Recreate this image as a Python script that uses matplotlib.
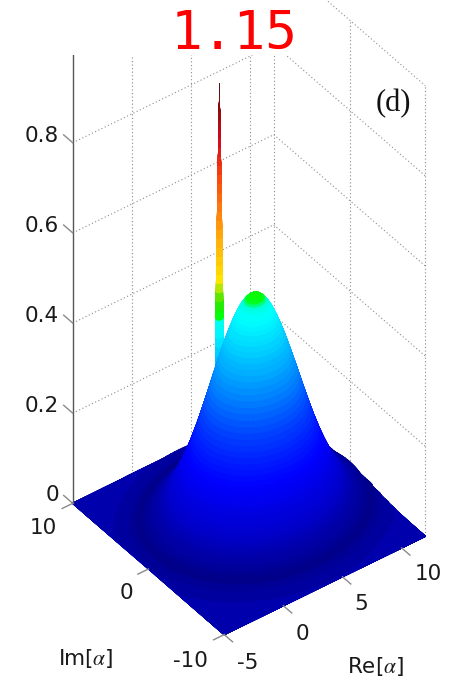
import numpy as np
import matplotlib
matplotlib.use('Agg')
from matplotlib import pyplot as plt
from matplotlib.colors import LinearSegmentedColormap
from matplotlib.patches import Rectangle
from mpl_toolkits.mplot3d import proj3d

plt.rcParams['font.family'] = ['DejaVu Sans']
plt.rcParams['mathtext.fontset'] = 'stix'

# 数据
re_ticks = [-5, 0, 5, 10]
im_ticks = [-10, 0, 10]
z_ticks = [0, 0.2, 0.4, 0.6, 0.8]
z_grid = [0.2, 0.4, 0.6, 0.8, 1.0]
re_range = [-5, 12]
im_range = [-10, 10]

# 宽峰：中心位置和径向剖面
peak_re = 4
peak_im = 0
peak_radius = [0, 0.125, 0.25, 0.375, 0.5, 0.625, 0.75, 0.875, 1, 1.125, 1.25, 1.375, 1.5, 1.625,
               1.75, 1.875, 2, 2.125, 2.25, 2.375, 2.5, 2.625, 2.75, 2.875, 3, 3.125, 3.25, 3.375,
               3.5, 3.625, 3.75, 3.875, 4, 4.125, 4.25, 4.375, 4.5, 4.625, 4.75, 4.875, 5, 5.125,
               5.25, 5.375, 5.5, 5.625, 5.75, 5.875, 6, 6.125, 6.25, 6.375, 6.5, 6.625, 6.75,
               6.875, 7, 7.25, 7.5, 7.75, 8, 8.5, 9, 9.5, 10, 11, 12, 14, 16]
peak_height = [0.495, 0.4946, 0.4935, 0.4915, 0.489, 0.4854, 0.481, 0.4764, 0.471, 0.4646, 0.458,
               0.4503, 0.442, 0.4338, 0.424, 0.4152, 0.405, 0.395, 0.384, 0.3734, 0.362, 0.3508,
               0.339, 0.3274, 0.316, 0.3038, 0.292, 0.28, 0.268, 0.2566, 0.245, 0.2336, 0.222,
               0.2114, 0.200, 0.1901, 0.180, 0.1698, 0.160, 0.1509, 0.142, 0.1331, 0.125, 0.1167,
               0.109, 0.1018, 0.095, 0.0881, 0.082, 0.0758, 0.070, 0.0648, 0.060, 0.0551, 0.051,
               0.0466, 0.043, 0.036, 0.030, 0.025, 0.020, 0.0135, 0.0087, 0.0055, 0.0034, 0.0012,
               0.0004, 0, 0]

# 尖峰：位置和径向剖面
spike_re = 1
spike_im = 0
spike_radius = [0, 0.012, 0.025, 0.037, 0.05, 0.062, 0.075, 0.087, 0.1, 0.112, 0.125, 0.135, 0.145,
                0.155, 0.165, 0.175, 0.185, 0.195, 0.205, 0.215, 0.225, 0.232, 0.24, 0.247, 0.255,
                0.262, 0.269, 0.275, 0.281, 0.287, 0.294, 0.3, 0.306, 0.312, 0.319, 0.325, 0.34]
spike_height = [1.0, 0.98, 0.96, 0.94, 0.92, 0.9, 0.88, 0.86, 0.84, 0.82, 0.8, 0.78, 0.76, 0.74,
                0.72, 0.7, 0.68, 0.66, 0.64, 0.62, 0.6, 0.58, 0.56, 0.54, 0.52, 0.5, 0.48, 0.46,
                0.44, 0.42, 0.4, 0.38, 0.36, 0.34, 0.32, 0.3, 0.0]

# 颜色表：深蓝-蓝-青-绿-黄-橙-红-暗红
surface_cmap = LinearSegmentedColormap.from_list('surface', [
    (0.0, (0, 0, 0.68)), (0.004, (0, 0, 0.62)), (0.015, (0, 0, 0.54)), (0.07, (0, 0, 0.78)),
    (0.13, (0, 0, 0.93)), (0.16, (0, 0, 1)), (0.25, (0, 0.25, 1)), (0.316, (0, 0.5, 1)),
    (0.4, (0, 0.8, 1)), (0.46, (0, 1, 1)), (0.478, (0, 1, 0.9)), (0.487, (0, 1, 0.05)),
    (0.52, (0.2, 0.9, 0)), (0.565, (1, 0.9, 0)), (0.66, (1, 0.68, 0.05)), (0.79, (0.98, 0.3, 0.05)),
    (0.87, (0.85, 0.05, 0.1)), (0.95, (0.55, 0.03, 0.05)), (1.0, (0.3, 0.08, 0.08))])

fig = plt.figure(figsize=(4.54, 6.78), dpi=100)
ax = fig.add_axes([(238.2 - 400) / 454, (678 - 305.3 - 400) / 678, 800 / 454, 800 / 678],
                  projection='3d', proj_type='ortho', computed_zorder=False)
ax.view_init(elev=40.6, azim=-126.9)
ax.set_xlim(re_range)
ax.set_ylim(im_range)
ax.set_zlim(0, 1)
ax.set_box_aspect((250.75, 251.6, 592), zoom=672 / 800)
ax.set_axis_off()


def polar_surface(center_re, center_im, radius, height, order, width):
    angle = np.radians(np.arange(0, 361, 2))
    rr, aa = np.meshgrid(np.array(radius), angle)
    zz = np.tile(np.array(height), (len(angle), 1))
    xx = np.clip(center_re + rr * np.cos(aa), *re_range)
    yy = np.clip(center_im + rr * np.sin(aa), *im_range)
    surf = ax.plot_surface(xx, yy, zz, rstride=1, cstride=1, cmap=surface_cmap, vmin=0, vmax=1,
                           linewidth=width, antialiased=True, zorder=order)
    surf.set_edgecolor('face')
    surf.set_snap(False)


# 背景虚线网格
grid_style = dict(color='#8c8c8c', linestyle=(0, (1, 2.2)), linewidth=0.8, zorder=1)
for z in z_grid:
    ax.plot([re_range[0], re_range[1]], [im_range[1], im_range[1]], [z, z], **grid_style)
    ax.plot([re_range[1], re_range[1]], [im_range[1], im_range[0]], [z, z], **grid_style)
for re in re_ticks[1:] + [re_range[1]]:
    ax.plot([re, re], [im_range[1], im_range[1]], [0, 1], **grid_style)
for im in im_ticks[:2]:
    ax.plot([re_range[1], re_range[1]], [im, im], [0, 1], **grid_style)

polar_surface(spike_re, spike_im, spike_radius, spike_height, 2, 0.15)
polar_surface(peak_re, peak_im, peak_radius, peak_height, 3, 0.9)

# 坐标轴线和刻度
tick_style = dict(color='#8a8a8a', linewidth=1.0, zorder=4)
ax.plot([re_range[0]] * 2, [im_range[1]] * 2, [0, 1], color='#555555', linewidth=1.0, zorder=4)
for re in re_ticks:
    ax.plot([re, re], [im_range[0], im_range[0] - 1.1], [0, 0], **tick_style)
for im in im_ticks:
    ax.plot([re_range[0], re_range[0] - 0.9], [im, im], [0, 0], **tick_style)
for z in z_ticks:
    ax.plot([re_range[0]] * 2, [im_range[1], im_range[1] + 1.2], [z, z], **tick_style)


def tick_label(text, x, y, z, dx, dy):
    px, py, _ = proj3d.proj_transform(x, y, z, ax.get_proj())
    ax.annotate(text, xy=(px, py), xytext=(dx, dy), textcoords='offset pixels', ha='center',
                va='center', fontsize=15.5, color='#1a1a1a', annotation_clip=False)


z_offsets = [(-20, 8), (-31, 7), (-31, 7), (-31, 7), (-31, 7)]
im_offsets = [(-34, -26), (-22, -24), (-29, -25)]
re_offsets = [(23, -28), (19, -28), (18.5, -27), (27, -26)]
for z, (dx, dy) in zip(z_ticks, z_offsets):
    tick_label(f'{z:g}', re_range[0], im_range[1], z, dx, dy)
for im, (dx, dy) in zip(im_ticks, im_offsets):
    tick_label(f'{im:d}', re_range[0], im, 0, dx, dy)
for re, (dx, dy) in zip(re_ticks, re_offsets):
    tick_label(f'{re:d}', re, im_range[0], 0, dx, dy)

fig.add_artist(Rectangle((0, 1 - 55 / 678), 300 / 454, 55 / 678, transform=fig.transFigure,
                         facecolor='white', edgecolor='none', zorder=5))
fig.text(234 / 454, 1 - 34 / 678, '1.15', color='#ff0000', fontsize=38, ha='center', va='center',
         family='DejaVu Sans Mono', zorder=6)
fig.text(393.5 / 454, 1 - 104 / 678, '(d)', fontsize=22, ha='center', va='center',
         family='Liberation Serif', color='#111111', zorder=6)
fig.text(85.5 / 454, 1 - 659 / 678, r'Im[$\alpha$]', fontsize=15.5, ha='center', va='center',
         color='#1a1a1a', zorder=6)
fig.text(375.5 / 454, 1 - 667 / 678, r'Re[$\alpha$]', fontsize=15.5, ha='center', va='center',
         color='#1a1a1a', zorder=6)

fig.savefig('out.png', dpi=100)
